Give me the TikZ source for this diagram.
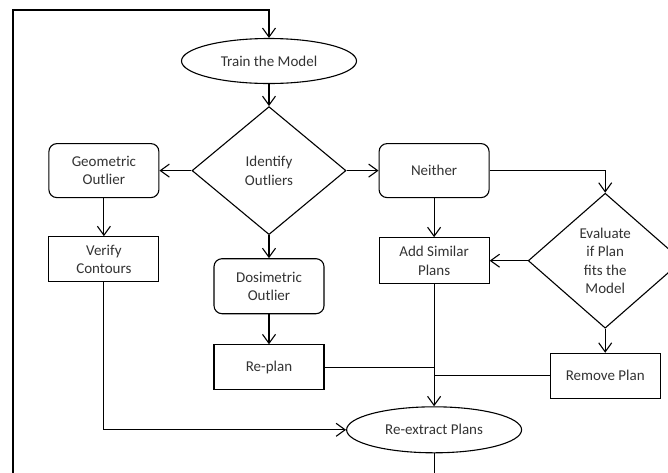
\documentclass[tikz,border=0pt]{standalone}
\usepackage{fontspec}
\setmainfont{Carlito}
\usetikzlibrary{shapes,arrows.meta,positioning}

\begin{document}
\begin{tikzpicture}[
        x=1pt, y=-1pt,
        >={Straight Barb[length=9pt,width=13pt]},
        line width=1.1pt,
        font=\fontsize{15}{18.5}\selectfont,
        flow/.style={draw, text=black!80, align=center, line width=1.1pt},
        term/.style={flow, ellipse, minimum width=175pt, minimum height=45pt, inner sep=1pt},
        decide/.style={flow, diamond, minimum width=154pt, inner sep=1pt},
        outlier/.style={flow, rectangle, rounded corners=8pt, minimum width=110pt, minimum height=54pt},
        task/.style={flow, rectangle, minimum width=110pt, minimum height=45pt}
    ]
        \useasboundingbox (0,0) rectangle (668,472);
        \clip (0,0) rectangle (668,472);

        \node[term] (train) at (269,61) {Train the Model};
        \node[decide, minimum height=128pt, below=22pt of train] (ident) {Identify\\Outliers};
        \node[outlier, left=32pt of ident] (geo) {Geometric\\Outlier};
        \node[outlier, right=32pt of ident] (neither) {Neither};
        \node[task, below=38pt of geo] (verify) {Verify\\Contours};
        \node[outlier, minimum height=55pt, below=23pt of ident] (dosi) {Dosimetric\\Outlier};
        \node[task, below=30pt of dosi] (replan) {Re-plan};
        \node[task, minimum height=46pt, below=39pt of neither] (addsim) {Add Similar\\Plans};
        \node[decide, minimum height=135pt, right=38pt of addsim] (evalfit) {Evaluate\\if Plan\\fits the\\Model};
        \node[task, below=24pt of evalfit] (remove) {Remove Plan};
        \node[term, minimum height=46pt, below=122pt of addsim] (reextract) {Re-extract Plans};

        % loop back to training
        \coordinate (loopbot) at (13,490);
        \coordinate (looptop) at (13,10);
        \draw[->] (reextract.south) |- (loopbot) -- (looptop) -| (train.north);

        \draw[->] (train) -- (ident);
        \draw[->] (ident) -- (geo);
        \draw[->] (ident) -- (neither);
        \draw[->] (ident) -- (dosi);
        \draw[->] (geo) -- (verify);
        \draw[->] (dosi) -- (replan);
        \draw[->] (neither) -- (addsim);
        \draw[->] (neither.east) -| (evalfit.north);
        \draw[->] (evalfit.west) -- (addsim.east);
        \draw[->] (evalfit) -- (remove);

        \draw[->] (addsim) -- (reextract);
        \draw (replan.east) -- (replan.east -| reextract.north);
        \draw (remove.west) -- (remove.west -| reextract.north);
        \draw[->] (verify.south) |- (reextract.west);

    \end{tikzpicture}
\end{document}
